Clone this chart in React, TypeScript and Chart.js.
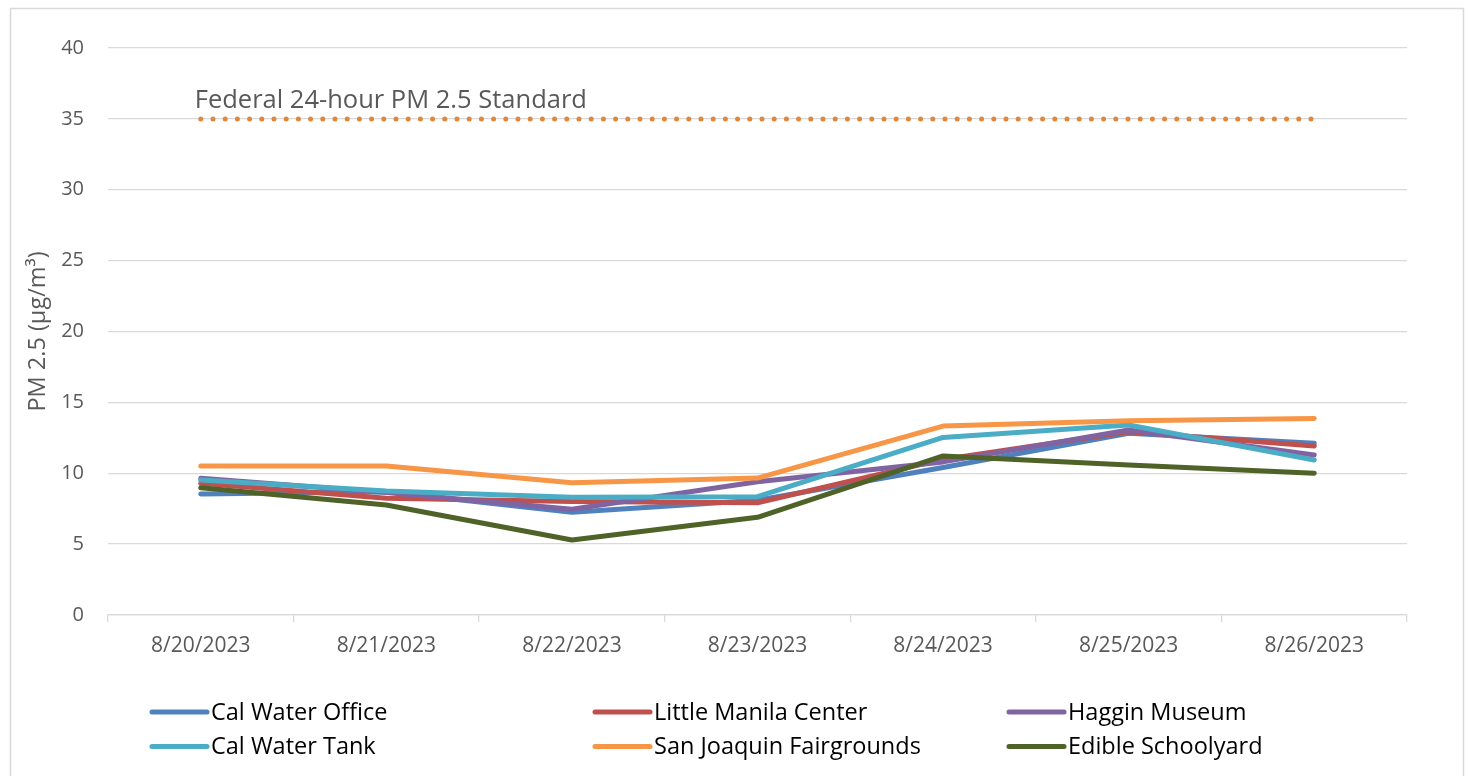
import React, { useEffect, useRef } from "react";
import { Chart, registerables } from "chart.js";

Chart.register(...registerables);

const categories = ["8/20/2023", "8/21/2023", "8/22/2023", "8/23/2023", "8/24/2023", "8/25/2023", "8/26/2023"];
const calWaterOffice = [8.54, 8.7, 7.25, 8.1, 10.4, 12.82, 12.11];
const littleManila = [9.29, 8.23, 8.0, 7.92, 10.98, 12.93, 11.92];
const hagginMuseum = [9.64, 8.65, 7.46, 9.4, 10.8, 13.05, 11.29];
const calWaterTank = [9.52, 8.75, 8.3, 8.35, 12.53, 13.4, 10.93];
const sanJoaquin = [10.51, 10.51, 9.33, 9.66, 13.33, 13.71, 13.87];
const edibleSchoolyard = [8.98, 7.76, 5.29, 6.89, 11.22, 10.58, 10.0];
const federalStandard = [35, 35, 35, 35, 35, 35, 35];
const yTicks = [0, 5, 10, 15, 20, 25, 30, 35, 40];

const seriesNames = ["Cal Water Office", "Little Manila Center", "Haggin Museum", "Cal Water Tank", "San Joaquin Fairgrounds", "Edible Schoolyard"];
const seriesValues = [calWaterOffice, littleManila, hagginMuseum, calWaterTank, sanJoaquin, edibleSchoolyard];
const seriesColors = ["#4F81BD", "#C0504D", "#8064A2", "#4BACC6", "#F79646", "#4F6228"];

const FONT = "'Open Sans', sans-serif";

const decorPlugin = {
  id: "decor",
  beforeDraw(chart: any) {
    const ctx = chart.ctx;
    ctx.save();
    ctx.fillStyle = "#ffffff";
    ctx.fillRect(0, 0, chart.width, chart.height);
    ctx.strokeStyle = "#D9D9D9";
    ctx.lineWidth = 1.5;
    ctx.strokeRect(10.5, 8.5, 1453, 800);
    ctx.restore();
  },
  afterDraw(chart: any) {
    const ctx = chart.ctx;
    const xs = chart.scales.x;
    const ys = chart.scales.y;
    ctx.save();
    // standard label
    ctx.fillStyle = "#595959";
    ctx.font = `25.5px ${FONT}`;
    ctx.textBaseline = "alphabetic";
    ctx.textAlign = "left";
    ctx.fillText("Federal 24-hour PM 2.5 Standard", xs.getPixelForValue(0) - 6, ys.getPixelForValue(35) - 11);
    // legend
    const colLine = [152, 595, 1009];
    const colText = [211, 654, 1068];
    const rowY = [712, 746.5];
    ctx.font = `23.5px ${FONT}`;
    ctx.textBaseline = "middle";
    chart.data.datasets.forEach((ds: any, i: number) => {
      if (i >= seriesNames.length) return;
      const c = i % 3;
      const r = Math.floor(i / 3);
      ctx.strokeStyle = ds.borderColor;
      ctx.lineWidth = 5;
      ctx.lineCap = "round";
      ctx.beginPath();
      ctx.moveTo(colLine[c], rowY[r]);
      ctx.lineTo(colLine[c] + 55, rowY[r]);
      ctx.stroke();
      ctx.fillStyle = "#000000";
      ctx.fillText(ds.label, colText[c], rowY[r] + 1);
    });
    ctx.restore();
  },
};

export default function App() {
  const ref = useRef<HTMLCanvasElement>(null);
  useEffect(() => {
    if (!ref.current) return;
    const datasets: any[] = seriesNames.map((name, i) => ({
      label: name,
      data: seriesValues[i],
      borderColor: seriesColors[i],
      backgroundColor: seriesColors[i],
      borderWidth: 5,
      borderCapStyle: "round",
      borderJoinStyle: "round",
      pointRadius: 0,
      tension: 0,
      order: 10 - i,
    }));
    datasets.push({
      label: "Federal 24-hour PM 2.5 Standard",
      data: federalStandard,
      borderColor: "#E0873C",
      backgroundColor: "#E0873C",
      borderWidth: 5,
      borderDash: [0, 12.2],
      borderCapStyle: "round",
      pointRadius: 0,
      order: 0,
    });
    const chart = new Chart(ref.current, {
      type: "line",
      data: { labels: categories, datasets },
      plugins: [decorPlugin],
      options: {
        animation: false,
        responsive: false,
        devicePixelRatio: 1,
        layout: { padding: { left: 20, right: 61, top: 48, bottom: 111 } },
        plugins: { legend: { display: false }, tooltip: { enabled: false } },
        scales: {
          x: {
            offset: true,
            grid: { offset: true, drawOnChartArea: false, drawTicks: true, tickLength: 7, color: "#D9D9D9", lineWidth: 1.3 },
            border: { display: true, color: "#D9D9D9", width: 1.3 },
            ticks: { color: "#595959", font: { size: 21, family: FONT }, padding: 11, maxRotation: 0, autoSkip: false },
            afterFit: (s: any) => { s.height = 50; },
          },
          y: {
            min: 0,
            max: 40,
            afterBuildTicks: (s: any) => { s.ticks = yTicks.map((v) => ({ value: v })); },
            grid: { color: "#D9D9D9", lineWidth: 1.3, drawTicks: false },
            border: { display: false },
            ticks: { color: "#595959", font: { size: 20, family: FONT }, padding: 24 },
            title: { display: true, text: "PM 2.5 (μg/m³)", color: "#595959", font: { size: 23.5, family: FONT }, padding: { top: 4, bottom: 0 } },
            afterFit: (s: any) => { s.width = 88; },
          },
        },
      },
    });
    return () => chart.destroy();
  }, []);
  return (
    <div style={{ position: "absolute", left: 0, top: 0, width: 1468, height: 776, background: "#fff" }}>
      <canvas ref={ref} width={1468} height={776} style={{ display: "block", width: 1468, height: 776 }} />
    </div>
  );
}
